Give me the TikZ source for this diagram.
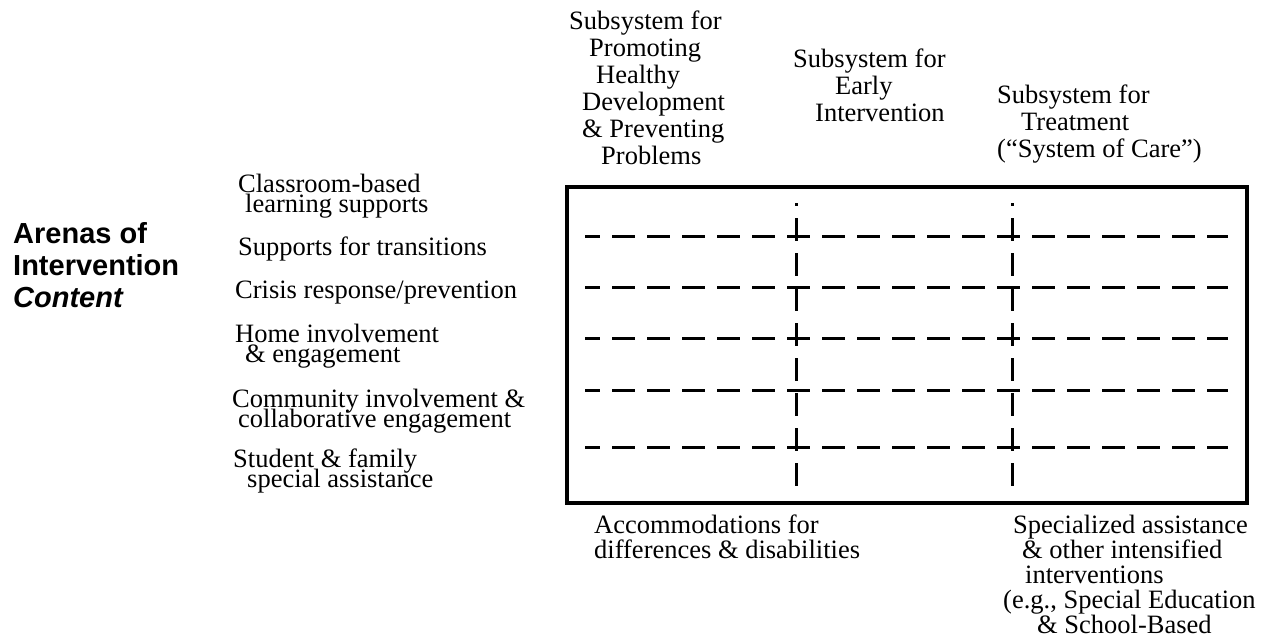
\documentclass[tikz,border=0pt]{standalone}
\usepackage{fontspec}
\setmainfont{Liberation Serif}
\newfontfamily\arenafont{Liberation Sans}
\usepackage{tikz}
\newcommand{\tightlines}{\lineskiplimit=-50pt\relax}
\tikzstyle{frame} = [rectangle, draw, line width=3.2pt, minimum width=680pt,
minimum height=316pt, inner sep=0pt]
\tikzstyle{rowline} = [draw, line width=3pt, dash pattern=on 23pt off 12pt, dash phase=8pt]
\tikzstyle{colline} = [draw, line width=3pt, dash pattern=on 23pt off 12pt, dash phase=20pt]
\tikzstyle{header} = [anchor=base west, inner sep=0pt, align=left,
font=\fontsize{26.5}{27}\selectfont]
\tikzstyle{arena} = [anchor=base west, inner sep=0pt, align=left,
font={\fontsize{26.5}{20}\selectfont\tightlines}]
\tikzstyle{note} = [anchor=base west, inner sep=0pt, align=left,
font=\fontsize{26.5}{25}\selectfont]
\tikzstyle{title} = [anchor=base west, inner sep=0pt, align=left,
font=\arenafont\bfseries\fontsize{29}{32}\selectfont]

\begin{document}
\begin{tikzpicture}[x=1pt, y=-1pt]
\useasboundingbox (0,0) rectangle (1265,641);

% the matrix
\node [frame] (grid) at (907,345) {};
\path [rowline] (585,236) -- (1228,236);
\path [rowline] (585,287) -- (1228,287);
\path [rowline] (585,338) -- (1228,338);
\path [rowline] (585,390) -- (1228,390);
\path [rowline] (585,447) -- (1228,447);
\path [colline] (796,203) -- (796,486);
\path [colline] (1012,203) -- (1012,486);

% subsystems (placed at the baseline of their last line)
\node [header] (promote) at (569,164) {Subsystem for\\\hspace*{20pt}Promoting\\\hspace*{27pt}Healthy\\
\hspace*{13pt}Development\\\hspace*{13pt}\& Preventing\\\hspace*{32pt}Problems};
\node [header] (early) at (793,121) {Subsystem for\\\hspace*{42pt}Early\\\hspace*{22pt}Intervention};
\node [header] (treat) at (997,157) {Subsystem for\\\hspace*{24pt}Treatment\\(“System of Care”)};

% arenas
\node [title] (content) at (13,307) {Arenas of\\Intervention\\\itshape Content};
\node [arena] (classroom) at (238,212) {Classroom-based\\\hspace*{7pt}learning supports};
\node [arena] (transition) at (238,255) {Supports for transitions};
\node [arena] (crisis) at (235,298) {Crisis response/prevention};
\node [arena] (home) at (235,362) {Home involvement\\\hspace*{10pt}\& engagement};
\node [arena] (community) at (232,427) {Community involvement \&\\\hspace*{6pt}collaborative engagement};
\node [arena] (assist) at (233,487) {Student \& family\\\hspace*{14pt}special assistance};

% below the matrix
\node [note] (accommodate) at (594,558) {Accommodations for\\differences \& disabilities};
\node [note] (special) at (1003,633) {\hspace*{10pt}Specialized assistance\\\hspace*{19pt}\& other intensified\\
\hspace*{22pt}interventions\\(e.g., Special Education\\\hspace*{34pt}\& School-Based};
\end{tikzpicture}
\end{document}
